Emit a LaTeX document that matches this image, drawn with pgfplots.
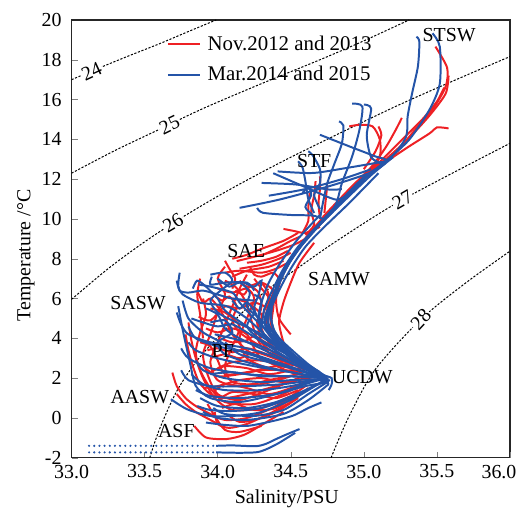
\documentclass[border=0pt]{standalone}
\usepackage{fontspec}
\setmainfont{Liberation Serif}
\usepackage{pgfplots}
\pgfplotsset{compat=1.18}
\definecolor{rd}{RGB}{238,32,36}
\definecolor{bl}{RGB}{36,84,168}

\begin{document}
\begin{tikzpicture}[
  ctr/.style={black, line width=0.5pt, dash pattern=on 1.1pt off 0.8pt, smooth},
  r/.style={rd, line width=1pt, smooth, tension=0.45},
  b/.style={bl, line width=1pt, smooth, tension=0.45},
  clbl/.style={fill=white, inner sep=0.6pt, font=\fontsize{10}{12}\selectfont},
]
\begin{axis}[
  name=ax,
  width=219.65bp, height=219.35bp, scale only axis,
  xmin=33, xmax=36, ymin=-2, ymax=20,
  xtick={33,33.5,34,34.5,35,35.5}, ytick={-2,0,2,4,6,8,10,12,14,16,18,20},
  extra x ticks={36},
  extra x tick style={xticklabel style={xshift=-5.5bp}},
  xticklabel style={/pgf/number format/fixed, /pgf/number format/fixed zerofill, /pgf/number format/precision=1},
  yticklabel style={xshift=-1.5bp},
  /pgf/number format/assume math mode=true,
  tick align=inside, tick pos=left,
  major tick length=3pt,
  xlabel={Salinity/PSU}, ylabel={Temperature /°C},
  xlabel style={at={(axis description cs:0.491,-0.094)}, anchor=center},
  ylabel style={at={(axis description cs:-0.104,0.462)}, anchor=center},
  tick label style={font=\fontsize{10}{12}\selectfont},
  label style={font=\fontsize{10}{12}\selectfont},
  axis line style={line width=0.6pt, black!85},
  legend style={at={(rel axis cs:0.203,0.983)}, anchor=north west, draw=none, fill=none,
    font=\fontsize{10.5}{12.6}\selectfont, row sep=2.5pt,
    /tikz/every odd column/.append style={column sep=1.5pt}},
  legend cell align=left,
  legend image code/.code={\draw[#1] (0cm,0cm) -- (0.56cm,0cm);},
]
% density contours
\addplot[ctr, forget plot] coordinates {(33.0,17.0) (33.2,17.62) (33.4,18.22) (33.6,18.8) (33.8,19.42) (33.99,20.0)};
\addplot[ctr, forget plot] coordinates {(33.0,12.3) (33.3,13.45) (33.6,14.5) (33.9,15.55) (34.3,16.8) (34.7,18.0) (35.0,18.95) (35.31,20)};
\addplot[ctr, forget plot] coordinates {(33.0,5.96) (33.25,7.5) (33.5,8.85) (33.75,10.05) (34.08,11.47) (34.5,13.1) (35.17,15.49) (35.6,16.9) (36,18.16)};
\addplot[ctr, forget plot] coordinates {(33.535,-2) (33.6,-0.6) (33.715,1.28) (33.85,2.8) (34.01,4.12) (34.3,6.2) (34.58,7.7) (34.83,8.97) (35.265,10.97) (36,13.8)};
\addplot[ctr, forget plot] coordinates {(34.776,-2) (34.9,0.1) (35.08,2.45) (35.39,4.95) (35.7,6.8) (36,8.38)};
\node[clbl, rotate=25] at (axis cs:33.137,17.41) {24};
\node[clbl, rotate=26] at (axis cs:33.67,14.73) {25};
\node[clbl, rotate=31] at (axis cs:33.694,9.80) {26};
\node[clbl, rotate=30] at (axis cs:35.265,10.97) {27};
\node[clbl, rotate=47] at (axis cs:35.39,4.95) {28};

% Nov.2012 and 2013
\addplot[r] coordinates {(35.49,18.66) (35.57,17.6) (35.56,16.65) (35.47,15.5) (35.33,14.3) (35.19,13.1) (35.0,12.0) (34.8,10.5) (34.62,9.1) (34.5,8.0) (34.42,7.0) (34.38,6.0) (34.36,5.0) (34.4,4.0) (34.5,3.2) (34.62,2.5)};
\addlegendentry{Nov.2012 and 2013}
\addplot[r, forget plot] coordinates {(35.58,17.2) (35.56,16.3) (35.45,15.2) (35.3,14.0) (35.15,13.0) (34.95,11.8) (34.76,10.3) (34.6,9.0) (34.48,7.8) (34.4,6.5) (34.38,5.5) (34.37,4.5) (34.45,3.5) (34.55,2.8)};
\addplot[r, forget plot] coordinates {(35.58,14.55) (35.5,14.6) (35.45,14.3) (35.3,13.6) (35.15,12.85) (34.98,11.9) (34.8,10.6) (34.63,9.3) (34.52,8.2) (34.44,7.1) (34.4,6.0) (34.42,5.0) (34.5,4.2)};
\addplot[r, forget plot] coordinates {(35.55,16.6) (35.5,15.9) (35.4,15.0) (35.25,13.9) (35.1,12.8) (34.9,11.4) (34.7,9.9) (34.57,8.7)};
\addplot[r, forget plot] coordinates {(35.26,15.08) (35.22,14.5) (35.15,13.6) (35.05,12.6) (34.9,11.5) (34.72,10.1)};
\addplot[r, forget plot] coordinates {(35.1,14.65) (35.12,14.2) (35.08,13.4) (35.0,12.5)};
\addplot[r, forget plot] coordinates {(34.90,14.65) (34.97,14.73) (35.06,14.65) (35.11,13.98) (35.11,13.14) (35.05,12.5) (34.92,11.6)};
\addplot[r, forget plot] coordinates {(34.70,12.14) (34.70,11.5) (34.69,10.8) (34.7,10.1) (34.72,9.8)};
\addplot[r, forget plot] coordinates {(34.67,11.9) (34.66,11.2) (34.64,10.4) (34.66,9.7) (34.6,9.2)};
\addplot[r, forget plot] coordinates {(34.63,11.3) (34.62,10.6) (34.62,9.9) (34.58,9.3)};
\addplot[r, forget plot] coordinates {(34.75,11.7) (34.74,11.0) (34.73,10.3)};
\addplot[r, forget plot] coordinates {(34.45,9.5) (34.52,9.4) (34.6,9.3) (34.7,9.6)};
\addplot[r, forget plot] coordinates {(34.13,7.88) (34.25,8.1) (34.4,8.4) (34.52,8.7) (34.6,9.0)};
\addplot[r, forget plot] coordinates {(34.29,8.13) (34.4,8.5) (34.5,8.9) (34.56,9.1)};
\addplot[r, forget plot] coordinates {(34.15,7.5) (34.3,7.7) (34.42,8.0) (34.5,8.3)};
\addplot[r, forget plot] coordinates {(34.1,7.1) (34.2,7.4) (34.35,7.6) (34.45,7.9)};
\addplot[r, forget plot] coordinates {(34.1,8.0) (34.2,8.2) (34.3,8.5) (34.45,8.9) (34.55,9.3)};
\addplot[r, forget plot] coordinates {(34.2,7.8) (34.3,7.9) (34.4,8.1) (34.48,8.4)};
\addplot[r, forget plot] coordinates {(34.05,7.3) (34.15,7.4) (34.3,7.3) (34.4,7.5) (34.48,7.8)};
\addplot[r, forget plot] coordinates {(34.05,7.6) (34.0,7.0) (34.05,6.2) (34.0,5.3) (33.95,4.2) (33.9,3.2) (33.93,2.2) (34.0,1.2) (34.15,0.9) (34.35,1.4) (34.55,2.0) (34.65,2.3)};
\addplot[r, forget plot] coordinates {(34.2,7.2) (34.15,6.5) (34.1,5.6) (34.05,4.7) (34.0,3.8) (33.95,2.8) (34.0,1.9) (34.15,1.6) (34.35,1.9) (34.55,2.2)};
\addplot[r, forget plot] coordinates {(33.9,6.0) (33.92,5.2) (33.88,4.3) (33.85,3.3) (33.88,2.4) (33.95,1.5) (34.05,0.8) (34.25,0.7) (34.45,1.2) (34.6,1.8)};
\addplot[r, forget plot] coordinates {(33.8,4.8) (33.82,3.9) (33.85,3.0) (33.9,2.0) (33.98,1.0) (34.1,0.4) (34.3,0.5) (34.5,1.1)};
\addplot[r, forget plot] coordinates {(33.69,2.28) (33.72,1.6) (33.78,1.0) (33.85,0.6) (33.95,0.2) (34.05,-0.1) (34.2,0.0) (34.4,0.6) (34.6,1.6)};
\addplot[r, forget plot] coordinates {(33.84,-0.4) (33.92,-0.98) (34.06,-1.06) (34.18,-0.85) (34.29,-0.40) (34.45,0.3)};
\addplot[r, forget plot] coordinates {(34.1,6.0) (34.2,5.8) (34.3,5.2) (34.3,4.5) (34.35,3.8) (34.45,3.0) (34.6,2.4)};
\addplot[r, forget plot] coordinates {(34.0,6.5) (34.1,6.3) (34.2,6.5) (34.25,6.0) (34.2,5.0) (34.15,4.0) (34.2,3.0) (34.35,2.5) (34.55,2.3)};
\addplot[r, forget plot] coordinates {(33.95,5.5) (34.05,5.3) (34.15,4.6) (34.1,3.6) (34.05,2.6) (34.1,1.8) (34.3,1.7) (34.5,2.1)};
\addplot[r, forget plot] coordinates {(33.88,3.8) (33.95,3.6) (34.0,2.9) (34.05,2.2) (34.2,2.3) (34.4,2.6) (34.5,2.5)};
\addplot[r, forget plot] coordinates {(34.3,6.8) (34.35,6.2) (34.32,5.4) (34.28,4.6) (34.3,3.8) (34.4,3.2) (34.52,2.8)};
\addplot[r, forget plot] coordinates {(33.92,4.5) (34.0,4.3) (34.1,4.5) (34.2,4.2) (34.25,3.5) (34.3,2.9)};
\addplot[r, forget plot] coordinates {(33.98,0.3) (34.0,-0.3) (34.08,-0.5) (34.2,-0.3) (34.35,0.2) (34.5,0.8) (34.62,1.5)};
\addplot[r, forget plot] coordinates {(33.87,1.8) (33.95,1.2) (34.05,1.0) (34.2,1.2) (34.35,1.5) (34.5,1.8) (34.68,2.1)};
\addplot[r, forget plot] coordinates {(34.15,6.9) (34.2,6.6) (34.3,6.8) (34.38,6.4) (34.35,5.8)};
\addplot[r, forget plot] coordinates {(34.0,2.5) (34.1,2.8) (34.25,2.9) (34.4,2.8) (34.55,2.6) (34.7,2.2)};
\addplot[r, forget plot] coordinates {(33.86,6.4) (33.9,5.8) (33.95,6.0) (34.0,5.6) (34.05,5.0) (34.1,4.2) (34.2,3.4) (34.35,2.8) (34.5,2.3) (34.62,2.1)};
\addplot[r, forget plot] coordinates {(34.05,6.9) (34.12,6.6) (34.18,6.0) (34.22,5.2) (34.25,4.4) (34.3,3.6) (34.4,3.0)};
\addplot[r, forget plot] coordinates {(34.25,7.0) (34.3,6.5) (34.35,6.0) (34.33,5.0) (34.35,4.2) (34.45,3.5) (34.55,3.0)};
\addplot[r, forget plot] coordinates {(33.95,2.3) (34.05,2.6) (34.2,2.5) (34.35,2.2) (34.5,2.4) (34.6,2.6)};
\addplot[r, forget plot] coordinates {(33.9,1.5) (34.0,1.6) (34.15,1.9) (34.3,2.0) (34.45,1.8) (34.6,2.0)};
\addplot[r, forget plot] coordinates {(33.72,1.2) (33.78,0.7) (33.85,0.3) (33.95,-0.1) (34.0,-0.3)};
\addplot[r, forget plot] coordinates {(33.95,3.0) (34.05,3.2) (34.15,3.0) (34.25,3.3) (34.35,3.1) (34.45,2.8)};
\addplot[r, forget plot] coordinates {(34.02,4.0) (34.1,3.8) (34.2,3.9) (34.25,4.1) (34.35,3.7) (34.45,3.3)};
\addplot[r, forget plot] coordinates {(33.87,5.1) (33.95,4.9) (34.05,5.6) (34.15,5.5) (34.25,5.8) (34.35,5.5)};
\addplot[r, forget plot] coordinates {(34.0,0.9) (34.1,1.3) (34.25,1.2) (34.4,1.0) (34.55,1.4)};
\addplot[r, forget plot] coordinates {(34.08,0.1) (34.15,-0.2) (34.25,-0.1) (34.4,0.3) (34.55,1.0)};
\addplot[r, forget plot] coordinates {(33.88,7.0) (33.86,6.2) (33.88,5.2) (33.9,4.0)};
\addplot[r, forget plot] coordinates {(33.78,4.2) (33.8,3.4) (33.83,2.6) (33.87,1.8)};
\addplot[r, forget plot] coordinates {(34.45,3.8) (34.42,4.8) (34.45,5.8) (34.5,6.8) (34.56,7.8) (34.66,8.8)};
\addplot[r, forget plot] coordinates {(34.12,6.4) (34.18,6.2) (34.22,6.6) (34.28,6.3) (34.3,5.6) (34.27,4.8) (34.3,4.0)};
\addplot[r, forget plot] coordinates {(33.97,6.2) (34.03,5.9) (34.08,6.1) (34.13,5.6) (34.1,4.9) (34.15,4.3) (34.25,3.8) (34.35,3.4)};
\addplot[r, forget plot] coordinates {(34.05,7.9) (34.08,7.5) (34.12,7.0) (34.1,6.5)};
\addplot[r, forget plot] coordinates {(34.22,7.6) (34.25,7.2) (34.3,7.1) (34.38,7.3) (34.42,7.0)};
\addplot[r, forget plot] coordinates {(33.93,3.4) (34.0,3.5) (34.1,3.3) (34.2,3.5) (34.3,3.3) (34.4,3.0) (34.5,2.7)};
\addplot[r, forget plot] coordinates {(33.9,2.6) (34.0,2.1) (34.15,2.2) (34.3,2.4) (34.45,2.4) (34.58,2.3)};
\addplot[r, forget plot] coordinates {(33.97,1.3) (34.05,1.7) (34.2,1.5) (34.35,1.2) (34.5,1.5) (34.62,1.9)};
\addplot[r, forget plot] coordinates {(34.03,0.5) (34.12,0.7) (34.25,0.4) (34.4,0.5) (34.55,1.2)};
\addplot[r, forget plot] coordinates {(33.93,0.7) (33.98,0.1) (34.05,-0.6) (34.15,-0.7) (34.3,-0.4)};

% Mar.2014 and 2015
\addplot[b] coordinates {(35.36,19.16) (35.38,18.9) (35.37,17.66) (35.33,16.3) (35.30,15.15) (35.29,14.15) (35.2,13.2) (35.0,12.0) (34.78,10.3) (34.6,9.0) (34.47,7.6) (34.4,6.3) (34.36,5.2) (34.42,3.8) (34.55,2.8) (34.68,2.15) (34.75,1.9)};
\addlegendentry{Mar.2014 and 2015}
\addplot[b, forget plot] coordinates {(35.47,19.33) (35.52,18.66) (35.52,16.8) (35.45,15.5) (35.31,13.98) (35.15,12.9) (34.95,11.7) (34.75,10.1) (34.57,8.7) (34.44,7.2) (34.36,5.8) (34.32,4.8) (34.4,3.7) (34.55,2.7) (34.7,2.1) (34.76,1.7)};
\addplot[b, forget plot] coordinates {(34.92,15.8) (34.99,15.65) (34.97,14.48) (34.92,13.14) (34.85,11.8) (34.8,10.6) (34.65,9.3) (34.5,8.0) (34.42,6.8) (34.37,5.5) (34.38,4.5) (34.5,3.3) (34.65,2.4) (34.74,2.0)};
\addplot[b, forget plot] coordinates {(35.0,15.75) (35.05,15.55) (35.02,14.2) (35.05,13.1) (35.12,12.7) (35.0,12.0) (34.8,10.5) (34.62,9.1) (34.5,7.9) (34.43,6.9) (34.38,5.9) (34.34,4.9) (34.45,3.5) (34.62,2.5) (34.74,2.0)};
\addplot[b, forget plot] coordinates {(34.70,14.23) (34.90,13.65) (35.08,13.14) (35.15,12.9) (34.98,11.9) (34.78,10.4) (34.6,9.0) (34.47,7.7) (34.4,6.5) (34.35,5.3) (34.36,4.3) (34.52,3.1) (34.68,2.3) (34.75,1.9)};
\addplot[b, forget plot] coordinates {(34.83,14.9) (34.86,14.7) (34.85,13.8) (34.8,12.8) (34.75,11.8) (34.72,10.8) (34.7,10.0)};
\addplot[b, forget plot] coordinates {(34.15,10.56) (34.42,10.97) (34.76,11.64) (35.04,12.31) (35.15,12.81) (35.0,12.1) (34.8,10.6) (34.63,9.2) (34.5,7.9) (34.42,6.8) (34.35,5.6) (34.33,4.6) (34.45,3.4) (34.62,2.5) (34.74,2.0)};
\addplot[b, forget plot] coordinates {(34.27,10.56) (34.31,10.31) (34.5,10.2) (34.65,10.17) (34.72,10.0)};
\addplot[b, forget plot] coordinates {(34.30,11.81) (34.54,11.73) (34.76,11.48) (34.85,11.5)};
\addplot[b, forget plot] coordinates {(34.41,12.39) (34.65,12.31) (34.88,12.56) (35.15,12.9)};
\addplot[b, forget plot] coordinates {(34.38,12.3) (34.6,11.6) (34.81,10.97) (34.9,11.3)};
\addplot[b, forget plot] coordinates {(34.35,11.17) (34.6,11.5) (34.85,12.0) (35.05,12.5)};
\addplot[b, forget plot] coordinates {(34.55,12.9) (34.58,12.6) (34.6,11.9) (34.62,11.0) (34.66,10.3)};
\addplot[b, forget plot] coordinates {(34.62,13.4) (34.65,13.2) (34.7,12.5) (34.7,11.8) (34.66,11.2) (34.7,10.5)};
\addplot[b, forget plot] coordinates {(34.58,11.3) (34.62,11.6) (34.64,11.2) (34.6,10.6) (34.65,10.2)};
\addplot[b, forget plot] coordinates {(34.3,4.5) (34.32,5.5) (34.38,6.5) (34.45,7.5) (34.55,8.6) (34.68,9.6) (34.85,10.8) (35.05,12.2) (35.2,13.1)};
\addplot[b, forget plot] coordinates {(34.35,4.2) (34.35,5.2) (34.42,6.4) (34.5,7.5) (34.6,8.6) (34.73,9.6) (34.9,10.8) (35.1,12.3)};
\addplot[b, forget plot] coordinates {(34.28,4.8) (34.3,5.8) (34.35,6.8) (34.43,7.8) (34.55,9.0) (34.7,10.2)};
\addplot[b, forget plot] coordinates {(33.74,7.30) (33.73,6.63) (33.76,6.21) (33.88,5.79) (34.06,5.62) (34.2,5.0) (34.35,4.0) (34.5,3.1) (34.65,2.4) (34.74,2.0)};
\addplot[b, forget plot] coordinates {(33.73,5.62) (33.76,4.45) (33.81,2.79) (33.85,1.61) (33.95,1.0) (34.15,0.8) (34.4,1.2) (34.6,1.7) (34.74,2.0)};
\addplot[b, forget plot] coordinates {(33.68,0.94) (33.79,0.44) (33.94,0.11) (34.1,0.1) (34.29,0.28) (34.5,0.9) (34.63,1.44) (34.74,1.95)};
\addplot[b, forget plot] coordinates {(33.92,-0.23) (34.05,-0.35) (34.20,-0.40) (34.35,-0.2) (34.51,0.10) (34.62,0.5) (34.71,0.78)};
\addplot[b, forget plot] coordinates {(33.99,-1.40) (34.1,-1.38) (34.26,-1.42) (34.33,-1.3) (34.40,-1.06) (34.48,-0.8) (34.56,-0.56)};
\addplot[b, forget plot] coordinates {(33.99,-1.73) (34.15,-1.75) (34.27,-1.72) (34.34,-1.55) (34.42,-1.25) (34.53,-0.75)};
\addplot[bl, line width=1.2pt, line cap=round, dash pattern=on 0pt off 2.6pt, forget plot] coordinates {(33.12,-1.40) (33.99,-1.40)};
\addplot[bl, line width=1.2pt, line cap=round, dash pattern=on 0pt off 2.6pt, forget plot] coordinates {(33.12,-1.73) (33.99,-1.73)};
\addplot[b, forget plot] coordinates {(33.8,4.6) (33.85,4.0) (34.0,3.6) (34.2,3.3) (34.45,2.7) (34.65,2.2) (34.74,2.0)};
\addplot[b, forget plot] coordinates {(33.75,3.5) (33.8,3.0) (33.95,2.5) (34.2,2.2) (34.45,2.1) (34.65,2.05) (34.74,2.0)};
\addplot[b, forget plot] coordinates {(33.82,2.2) (33.9,1.7) (34.05,1.4) (34.3,1.4) (34.5,1.6) (34.68,1.9) (34.76,1.85)};
\addplot[b, forget plot] coordinates {(33.88,1.0) (34.0,0.6) (34.2,0.5) (34.4,0.8) (34.6,1.4) (34.74,1.9)};
\addplot[b, forget plot] coordinates {(33.92,5.5) (34.0,5.2) (34.05,4.5) (34.15,4.0) (34.35,3.3) (34.55,2.6) (34.72,2.05)};
\addplot[b, forget plot] coordinates {(33.87,6.7) (33.95,6.6) (34.1,6.3) (34.15,5.8) (34.25,5.0) (34.4,4.0) (34.55,3.0) (34.7,2.2)};
\addplot[b, forget plot] coordinates {(33.95,7.2) (34.05,7.3) (34.1,6.9) (34.02,6.4) (33.95,5.9) (34.0,5.3) (34.1,4.9) (34.3,4.2) (34.5,3.2) (34.7,2.3)};
\addplot[b, forget plot] coordinates {(33.76,5.9) (33.8,5.0) (33.9,4.3) (34.0,3.9) (34.1,3.5) (34.3,3.0) (34.55,2.4) (34.73,2.0)};
\addplot[b, forget plot] coordinates {(34.18,6.8) (34.25,6.6) (34.3,6.9) (34.28,6.2) (34.25,5.5) (34.3,4.7) (34.4,3.8) (34.58,2.8) (34.72,2.1)};
\addplot[b, forget plot] coordinates {(33.85,2.9) (33.9,2.4) (34.05,2.0) (34.3,1.8) (34.5,1.9) (34.7,1.95)};
\addplot[b, forget plot] coordinates {(33.97,0.5) (34.05,0.2) (34.25,0.1) (34.45,0.4) (34.62,1.2) (34.75,1.8)};
\addplot[b, forget plot] coordinates {(34.1,5.9) (34.15,5.5) (34.2,5.8) (34.25,5.3) (34.2,4.6) (34.3,3.9) (34.5,3.1)};
\addplot[b, forget plot] coordinates {(33.95,4.8) (34.05,4.9) (34.1,4.3) (34.0,3.8) (34.05,3.2) (34.25,2.7) (34.5,2.3) (34.72,2.0)};
\addplot[b, forget plot] coordinates {(33.72,5.3) (33.75,4.7) (33.8,4.2) (33.95,3.8) (34.2,3.5) (34.45,2.9) (34.65,2.3) (34.75,2.0)};
\addplot[b, forget plot] coordinates {(33.8,3.8) (33.85,3.4) (34.0,3.0) (34.25,2.6) (34.5,2.3) (34.7,2.05)};
\addplot[b, forget plot] coordinates {(33.85,1.4) (33.95,1.1) (34.15,1.0) (34.4,1.2) (34.6,1.6) (34.76,1.8)};
\addplot[b, forget plot] coordinates {(33.9,0.3) (34.0,0.0) (34.2,-0.1) (34.45,0.2) (34.62,0.9) (34.76,1.7)};
\addplot[b, forget plot] coordinates {(33.98,4.2) (34.1,4.0) (34.3,3.6) (34.5,2.9) (34.68,2.2)};
\addplot[b, forget plot] coordinates {(33.83,6.5) (33.86,6.9) (33.92,6.6) (34.0,6.0) (34.05,5.4) (34.2,4.6) (34.4,3.6) (34.6,2.6) (34.75,2.0)};
\addplot[b, forget plot] coordinates {(34.0,7.0) (34.08,6.6) (34.15,6.8) (34.22,6.3) (34.2,5.6) (34.3,4.9) (34.45,3.8) (34.62,2.7) (34.75,2.05)};
\addplot[b, forget plot] coordinates {(34.62,2.3) (34.72,2.15) (34.78,2.0) (34.78,1.7) (34.76,1.4)};
\addplot[b, forget plot] coordinates {(34.25,6.2) (34.3,5.9) (34.28,5.2) (34.3,4.4) (34.4,3.6) (34.55,2.8) (34.72,2.1)};
\addplot[b, forget plot] coordinates {(33.75,2.4) (33.8,1.9) (33.95,1.6) (34.2,1.6) (34.45,1.7) (34.65,1.9) (34.76,1.95)};
\addplot[b, forget plot] coordinates {(33.72,6.9) (33.74,6.4) (33.8,6.3) (33.9,6.4) (34.0,6.2) (34.1,6.0) (34.25,5.9)};
\addplot[b, forget plot] coordinates {(33.96,7.1) (33.95,6.7) (34.05,6.8) (34.2,6.8) (34.25,6.4)};
\addplot[b, forget plot] coordinates {(33.86,0.6) (33.95,0.4) (34.1,0.35) (34.3,0.5) (34.5,1.0) (34.66,1.6) (34.77,1.9)};
\addplot[b, forget plot] coordinates {(33.95,2.2) (34.1,2.3) (34.3,2.1) (34.5,2.1) (34.72,2.0)};
\addplot[b, forget plot] coordinates {(34.05,3.8) (34.15,3.2) (34.35,2.8) (34.55,2.4) (34.74,2.0)};
\addplot[b, forget plot] coordinates {(33.82,5.0) (33.9,4.8) (34.0,4.6) (34.1,4.7) (34.2,4.3) (34.35,3.6) (34.55,2.7) (34.74,2.0)};

% water mass labels
\node at (axis cs:35.584,19.25) {STSW};
\node at (axis cs:34.66,12.9) {STF};
\node at (axis cs:34.195,8.38) {SAE};
\node at (axis cs:34.83,6.96) {SAMW};
\node at (axis cs:33.455,5.79) {SASW};
\node at (axis cs:34.035,3.37) {PF};
\node at (axis cs:34.99,2.03) {UCDW};
\node at (axis cs:33.467,1.03) {AASW};
\node at (axis cs:33.717,-0.65) {ASF};
\end{axis}
\path ([shift={(-35.85bp,10bp)}]ax.north west) ([shift={(6bp,-27.15bp)}]ax.south east);
\end{tikzpicture}
\end{document}
